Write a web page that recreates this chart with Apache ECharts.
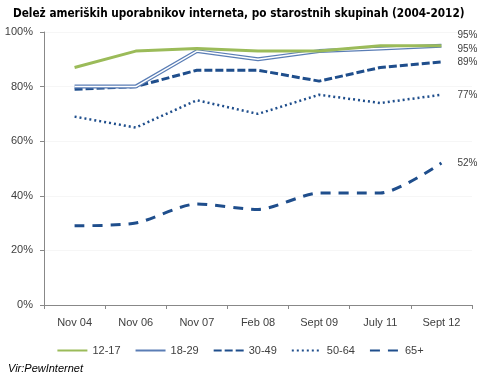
<!DOCTYPE html>
<html><head><meta charset="utf-8">
<script src="https://cdn.jsdelivr.net/npm/echarts@6/dist/echarts.min.js"></script>
<style>html,body{margin:0;padding:0;background:#fff}#c{width:480px;height:381px}</style>
</head><body><div id="c"></div>
<script>
const categories = ['Nov 04','Nov 06','Nov 07','Feb 08','Sept 09','July 11','Sept 12'];
const s1217 = [87,93,94,93,93,95,95];
const s1829 = [80,80,93,90,93,94,95];
const s3049 = [79,80,86,86,82,87,89];
const s5064 = [69,65,75,70,77,74,77];
const s65 = [29,30,37,35,41,41,52];
const yTicks = [0,20,40,60,80,100];

const chart = echarts.init(document.getElementById('c'), null, {renderer:'canvas'});
const txt = {fontFamily:'Liberation Sans, Arial, sans-serif', fontSize:11, color:'#404040'};
function endLbl(dy){
  return {show:true, formatter: p => p.value + '%', offset:[8, dy], color:'#404040', fontFamily:'Liberation Sans, Arial, sans-serif', fontSize:10};
}
const blue = '#1f4e8c';
chart.setOption({
  animation:false,
  title:{text:'Deleż ameriških uporabnikov interneta, po starostnih skupinah (2004-2012)', left:8, top:3,
    textStyle:{fontFamily:'DejaVu Sans Condensed, DejaVu Sans, sans-serif', fontWeight:'bold', fontSize:11.7, color:'#000'}},
  graphic:[{type:'text', left:8, top:363, style:{text:'Vir:PewInternet', font:'italic 11px "Liberation Sans", Arial, sans-serif', fill:'#000'}}],
  legend:{bottom:20, left:'center', itemWidth:30, itemHeight:8, itemGap:14,
    itemStyle:{opacity:0},
    data:['12-17','18-29','30-49','50-64','65+'], textStyle:txt},
  grid:{left:44, right:8, top:32, bottom:76},
  xAxis:{type:'category', data:categories, boundaryGap:true,
    axisLine:{lineStyle:{color:'#888'}}, axisTick:{show:true, length:4, lineStyle:{color:'#888'}},
    axisLabel:Object.assign({margin:12}, txt)},
  yAxis:{type:'value', min:0, max:100, interval:20,
    axisLine:{show:true, lineStyle:{color:'#888'}}, axisTick:{show:true, length:4, lineStyle:{color:'#888'}},
    splitLine:{show:true, lineStyle:{color:'#f6f6f6'}},
    axisLabel:Object.assign({formatter: v => yTicks.includes(v) ? v + '%' : '', margin:11}, txt)},
  series:[
    {name:'12-17', type:'line', data:s1217, symbol:'none', z:5, lineStyle:{color:'#9bbb59', width:3}, itemStyle:{color:'#9bbb59'}, endLabel:endLbl(-10)},
    {name:'18-29', type:'line', data:s1829, symbol:'none', z:4, lineStyle:{color:'#5a7db5', width:4}, itemStyle:{color:'#5a7db5'}, endLabel:endLbl(4)},
    {name:'18-29 inner', type:'line', data:s1829, symbol:'none', z:4, silent:true, lineStyle:{color:'#ffffff', width:1.5}, itemStyle:{color:'#fff'}},
    {name:'30-49', type:'line', data:s3049, symbol:'none', z:3, lineStyle:{color:blue, width:3, type:[8,3]}, itemStyle:{color:blue}, endLabel:endLbl(0)},
    {name:'50-64', type:'line', data:s5064, symbol:'none', z:3, lineStyle:{color:blue, width:2.5, type:[2,3]}, itemStyle:{color:blue}, endLabel:endLbl(0)},
    {name:'65+', type:'line', data:s65, symbol:'none', smooth:0.25, z:3, lineStyle:{color:blue, width:3, type:[10,8]}, itemStyle:{color:blue}, endLabel:endLbl(0)}
  ]
});
</script></body></html>
